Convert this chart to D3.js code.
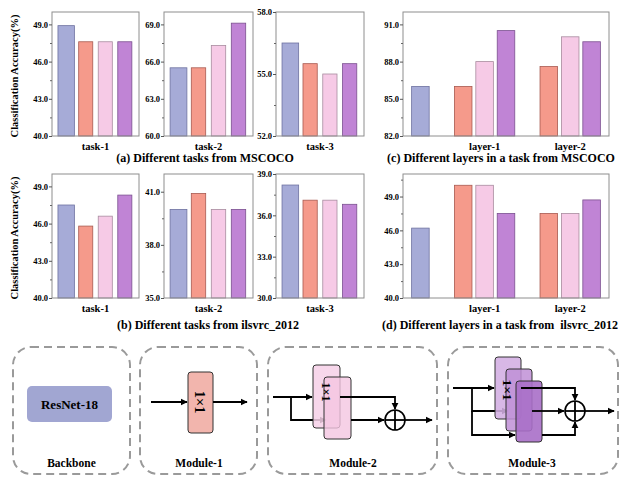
<!DOCTYPE html>
<html><head><meta charset="utf-8">
<script src="https://cdn.jsdelivr.net/npm/d3@7/dist/d3.min.js"></script>
<style>
html,body{margin:0;padding:0;background:#fff;}
svg{display:block;}
text{font-family:"Liberation Serif","Times New Roman",serif;font-weight:bold;fill:#000;white-space:pre;}
</style></head>
<body>
<script>
// ---------------- DATA ----------------
const seriesNames = ["Backbone", "Module-1", "Module-2", "Module-3"];
const taskLabels = ["task-1", "task-2", "task-3"];

// (a) MSCOCO tasks: values per task in series order
const cocoTask1 = [48.9, 47.6, 47.6, 47.6];
const cocoTask2 = [65.5, 65.5, 67.3, 69.1];
const cocoTask3 = [56.5, 55.5, 55.0, 55.5];
const cocoTaskDomains = [[40, 50], [60, 70], [52, 58]];
const cocoTaskTicks = [[40, 43, 46, 49], [60, 63, 66, 69], [52, 55, 58]];

// (b) ilsvrc_2012 tasks
const ilsvrcTask1 = [47.5, 45.8, 46.6, 48.3];
const ilsvrcTask2 = [40.0, 40.9, 40.0, 40.0];
const ilsvrcTask3 = [38.2, 37.1, 37.1, 36.8];
const ilsvrcTaskDomains = [[40, 50], [35, 42], [30, 39]];
const ilsvrcTaskTicks = [[40, 43, 46, 49], [35, 38, 41], [30, 33, 36, 39]];

// (c)/(d) layers
const layerLabels = ["layer-1", "layer-2"];
const layerModules = ["Module-1", "Module-2", "Module-3"];
const cocoLayerBackbone = 86.0;
const cocoLayer1 = [86.0, 88.0, 90.5];
const cocoLayer2 = [87.6, 90.0, 89.6];
const cocoLayerDomain = [82, 92];
const cocoLayerTicks = [82, 85, 88, 91];
const ilsvrcLayerBackbone = 46.2;
const ilsvrcLayer1 = [50.0, 50.0, 47.5];
const ilsvrcLayer2 = [47.5, 47.5, 48.7];
const ilsvrcLayerDomain = [40, 51];
const ilsvrcLayerTicks = [40, 43, 46, 49];

const yTitle = "Classification Accuracy(%)";
const captions = ["(a) Different tasks from MSCOCO", "(c) Different layers in a task from MSCOCO",
                  "(b) Different tasks from ilsvrc_2012", "(d) Different layers in a task from  ilsvrc_2012"];

// ---------------- STYLE ----------------
const fills = {"Backbone": "#a6abd7", "Module-1": "#f59a8b", "Module-2": "#f6cae6", "Module-3": "#c084d5"};
const strokes = {"Backbone": "#6e72a0", "Module-1": "#a85a50", "Module-2": "#a88c9f", "Module-3": "#7b508f"};
const widthFactor = {"Backbone": 0.84, "Module-1": 0.72, "Module-2": 0.72, "Module-3": 0.72};

const W = 624, H = 477;
const svg = d3.select("body").append("svg").attr("width", W).attr("height", H);

function yAxis(g, y, ticks) {
  const step = ticks[1] - ticks[0];
  const minors = ticks.map(t => t + step / 2).filter(t => t < y.domain()[1]);
  g.append("g").call(d3.axisLeft(y).tickValues(minors).tickSize(2).tickFormat(""))
    .call(s => { s.select(".domain").remove(); s.selectAll("line").attr("stroke", "#666"); });
  const ax = g.append("g").call(d3.axisLeft(y).tickValues(ticks).tickSize(3).tickPadding(1).tickFormat(d3.format(".1f")));
  ax.select(".domain").remove();
  ax.selectAll("line").attr("stroke", "#555");
  ax.selectAll("text").attr("font-size", 8.5).attr("font-family", null).attr("fill", "#000");
}

function frame(x0, x1, y0, y1) {
  svg.append("rect").attr("x", x0).attr("y", y0).attr("width", x1 - x0).attr("height", y1 - y0)
    .attr("fill", "none").attr("stroke", "#8e8e8e").attr("stroke-width", 1);
}

function taskPanel(x0, x1, y0, y1, values, domain, ticks, label) {
  const y = d3.scaleLinear().domain(domain).range([y1, y0]);
  const x = d3.scaleBand().domain(seriesNames).range([x0, x1]).paddingInner(0).paddingOuter(0.225);
  const data = seriesNames.map((s, i) => ({s, v: values[i]}));
  svg.append("g").selectAll("rect").data(data).join("rect")
    .attr("x", d => x(d.s) + (x.bandwidth() - x.bandwidth() * widthFactor[d.s]) / 2)
    .attr("width", d => x.bandwidth() * widthFactor[d.s])
    .attr("y", d => y(d.v)).attr("height", d => y(domain[0]) - y(d.v))
    .attr("fill", d => fills[d.s]).attr("stroke", d => strokes[d.s]).attr("stroke-width", 0.8);
  frame(x0, x1, y0, y1);
  yAxis(svg.append("g").attr("transform", `translate(${x0},0)`), y, ticks);
  svg.append("text").attr("x", (x0 + x1) / 2).attr("y", y1 + 14).attr("text-anchor", "middle")
    .attr("font-size", 10.5).text(label);
}

function layerPanel(x0, x1, y0, y1, backbone, l1, l2, domain, ticks) {
  const slots = ["Backbone"];
  layerLabels.forEach(l => { slots.push("gap|" + l); layerModules.forEach(m => slots.push(l + "|" + m)); });
  const x = d3.scaleBand().domain(slots).range([x0, x1]).paddingInner(0).paddingOuter(0.313);
  const y = d3.scaleLinear().domain(domain).range([y1, y0]);
  const data = [{slot: "Backbone", s: "Backbone", v: backbone}];
  [l1, l2].forEach((arr, gi) => arr.forEach((v, i) =>
    data.push({slot: layerLabels[gi] + "|" + layerModules[i], s: layerModules[i], v})));
  const bw = x.bandwidth() * 0.82;
  svg.append("g").selectAll("rect").data(data).join("rect")
    .attr("x", d => x(d.slot) + (x.bandwidth() - bw) / 2).attr("width", bw)
    .attr("y", d => y(d.v)).attr("height", d => y(domain[0]) - y(d.v))
    .attr("fill", d => fills[d.s]).attr("stroke", d => strokes[d.s]).attr("stroke-width", 0.8);
  frame(x0, x1, y0, y1);
  yAxis(svg.append("g").attr("transform", `translate(${x0},0)`), y, ticks);
  layerLabels.forEach(l => {
    svg.append("text").attr("x", x(l + "|Module-2") + x.bandwidth() / 2).attr("y", y1 + 14)
      .attr("text-anchor", "middle").attr("font-size", 10.5).text(l);
  });
}

const taskX = [[52, 139], [164, 253], [276, 364]];
const rows = [[12, 136], [174, 298]];
const cocoTasks = [cocoTask1, cocoTask2, cocoTask3];
const ilsvrcTasks = [ilsvrcTask1, ilsvrcTask2, ilsvrcTask3];

taskX.forEach((xr, i) => taskPanel(xr[0], xr[1], rows[0][0], rows[0][1], cocoTasks[i], cocoTaskDomains[i], cocoTaskTicks[i], taskLabels[i]));
taskX.forEach((xr, i) => taskPanel(xr[0], xr[1], rows[1][0], rows[1][1], ilsvrcTasks[i], ilsvrcTaskDomains[i], ilsvrcTaskTicks[i], taskLabels[i]));
layerPanel(403, 609, rows[0][0], rows[0][1], cocoLayerBackbone, cocoLayer1, cocoLayer2, cocoLayerDomain, cocoLayerTicks);
layerPanel(403, 609, rows[1][0], rows[1][1], ilsvrcLayerBackbone, ilsvrcLayer1, ilsvrcLayer2, ilsvrcLayerDomain, ilsvrcLayerTicks);

// y titles
rows.forEach(r => {
  svg.append("text").attr("transform", `translate(18,${(r[0] + r[1]) / 2 + 2}) rotate(-90)`)
    .attr("text-anchor", "middle").attr("font-size", 10.5).text(yTitle);
});
// captions
[[205, 162], [501, 162], [208, 329], [500, 329]].forEach((p, i) => {
  svg.append("text").attr("x", p[0]).attr("y", p[1]).attr("text-anchor", "middle")
    .attr("font-size", 12).text(captions[i]);
});

// ---------------- DIAGRAM ----------------
const defs = svg.append("defs");
defs.append("marker").attr("id", "ah").attr("viewBox", "0 0 10 10").attr("refX", 9).attr("refY", 5)
  .attr("markerWidth", 4).attr("markerHeight", 4).attr("markerUnits", "strokeWidth").attr("orient", "auto")
  .append("path").attr("d", "M0,0L10,5L0,10z").attr("fill", "#000");

const dg = svg.append("g");
function dbox(x0, x1) {
  dg.append("rect").attr("x", x0).attr("y", 347).attr("width", x1 - x0).attr("height", 127).attr("rx", 18)
    .attr("fill", "none").attr("stroke", "#9a9a9a").attr("stroke-width", 2).attr("stroke-dasharray", "8,5");
}
function path(pts, arrow, color) {
  dg.append("path").attr("d", d3.line()(pts)).attr("fill", "none").attr("stroke", color || "#000")
    .attr("stroke-width", 1.8).attr("marker-end", arrow ? "url(#ah)" : null);
}
function block(x0, y0, x1, y1, fill, op) {
  dg.append("rect").attr("x", x0).attr("y", y0).attr("width", x1 - x0).attr("height", y1 - y0).attr("rx", 3)
    .attr("fill", fill).attr("fill-opacity", op || 1).attr("stroke", "#333").attr("stroke-width", 1);
}
function label1x1(cx, cy, fs) {
  dg.append("text").attr("transform", `translate(${cx},${cy}) rotate(90)`).attr("text-anchor", "middle")
    .attr("dy", "0.35em").attr("font-size", fs).text("1×1");
}
function plus(cx, cy) {
  const r = 10;
  dg.append("circle").attr("cx", cx).attr("cy", cy).attr("r", r).attr("fill", "#fff").attr("stroke", "#000").attr("stroke-width", 1.6);
  path([[cx - r, cy], [cx + r, cy]]); path([[cx, cy - r], [cx, cy + r]]);
}
function modLabel(x, t) {
  dg.append("text").attr("x", x).attr("y", 467).attr("text-anchor", "middle").attr("font-size", 11.5).text(t);
}

dbox(13, 130); dbox(140, 257); dbox(268, 437); dbox(448, 618);

// Backbone
dg.append("rect").attr("x", 27).attr("y", 386).attr("width", 85).attr("height", 36).attr("rx", 5).attr("fill", "#a1a6d2");
dg.append("text").attr("x", 69.5).attr("y", 404).attr("dy", "0.35em").attr("text-anchor", "middle").attr("font-size", 13).text("ResNet-18");
modLabel(71.5, "Backbone");

// Module-1
path([[151, 402], [187, 402]], true);
block(188, 372, 213, 433, "#f2b5ad");
label1x1(200.5, 402, 14.5);
path([[213, 402], [247, 402]], true);
modLabel(199, "Module-1");

// Module-2
path([[273, 397], [312, 397]], true);
path([[291, 397], [291, 420], [326, 420]], true);
block(313, 365, 340, 428, "#f6d0e7", 0.85);
block(324, 377, 351, 439, "#f4c6e1", 0.8);
label1x1(326.5, 392, 12);
path([[340, 397], [395, 397], [395, 409]], true);
path([[351, 420], [384, 420]], true);
plus(395, 420);
path([[405, 420], [432, 420]], true);
modLabel(353, "Module-2");

// Module-3
path([[453, 388], [494, 388]], true);
path([[472, 388], [472, 411], [508, 411]], true);
path([[472, 411], [472, 435], [515, 435]], true);
block(495, 357, 521, 419, "#d3aee3", 0.88);
block(506, 369, 532, 431, "#bf8fd6", 0.85);
block(516, 381, 542, 442, "#a96fc8", 0.9);
label1x1(507.5, 390, 13.5);
path([[521, 388], [575, 388], [575, 400]], true);
path([[532, 411], [564, 411]], true);
path([[542, 435], [575, 435], [575, 422]], true);
plus(575, 411);
path([[585, 411], [614, 411]], true);
modLabel(532, "Module-3");
</script>
</body></html>
